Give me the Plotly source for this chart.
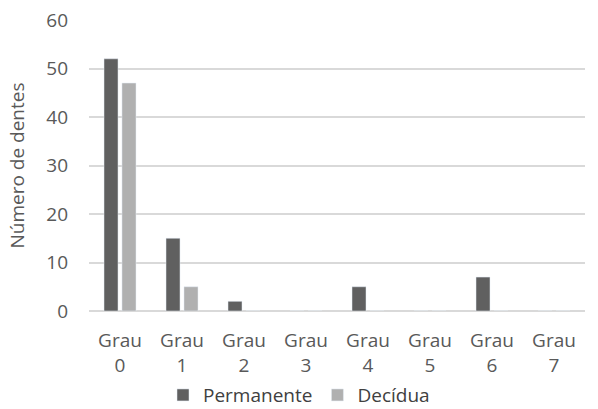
import plotly.graph_objects as go

categories = ["Grau<br>0", "Grau<br>1", "Grau<br>2", "Grau<br>3", "Grau<br>4", "Grau<br>5", "Grau<br>6", "Grau<br>7"]
permanente = [52, 15, 2, 0, 5, 0, 7, 0]
decidua = [47, 5, 0, 0, 0, 0, 0, 0]

fig = go.Figure()
fig.add_trace(go.Bar(x=categories, y=permanente, name="Permanente", marker_color="#606060"))
fig.add_trace(go.Bar(x=categories, y=decidua, name="Decídua", marker_color="#b0b0b0"))

fig.update_layout(
    width=598, height=409,
    margin=dict(l=89, r=13, t=20, b=98),
    plot_bgcolor="white", paper_bgcolor="white",
    font=dict(family="Open Sans", size=19, color="#595959"),
    barmode="group", bargap=0.42, bargroupgap=0.22,
    showlegend=True,
    legend=dict(orientation="h", x=0.5, xanchor="center", xref="container",
                y=0.034, yanchor="middle", yref="container",
                font=dict(size=19, color="#404040"), itemwidth=30),
    xaxis=dict(showgrid=False, ticks="", showline=False, automargin=False,
               ticklabelstandoff=16, tickfont=dict(size=19)),
    yaxis=dict(range=[0, 60], dtick=10, gridcolor="#d9d9d9", gridwidth=1.5,
               zeroline=True, zerolinecolor="#d9d9d9", zerolinewidth=1.5,
               automargin=False, ticklabelstandoff=20,
               title=dict(text="Número de dentes", font=dict(size=19), standoff=16),
               tickfont=dict(size=19)),
)

fig.write_html("out.html")
